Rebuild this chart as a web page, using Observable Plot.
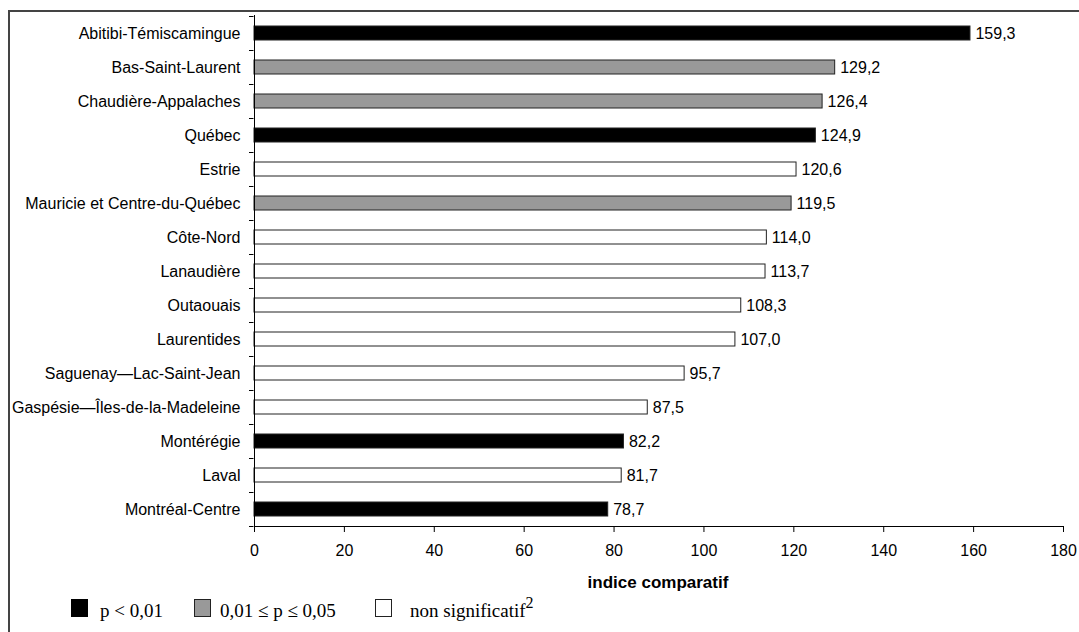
<!DOCTYPE html>
<html>
<head>
<meta charset="utf-8">
<script src="https://cdn.jsdelivr.net/npm/d3@7"></script>
<script src="https://cdn.jsdelivr.net/npm/@observablehq/plot@0.6"></script>
<style>
  html, body { margin: 0; padding: 0; background: #fff; }
  #wrap { position: relative; width: 1079px; height: 632px; overflow: hidden; font-family: "Liberation Sans", Arial, sans-serif; }
  #frame { position: absolute; left: 8px; top: 10px; width: 1200px; height: 700px; border-left: 2px solid #444; border-top: 2px solid #444; box-sizing: border-box; }
  #chart { position: absolute; left: 0; top: 0; }
  #xtitle { position: absolute; top: 573px; left: 658px; transform: translateX(-50%); font-weight: bold; font-size: 17px; line-height: 20px; color: #000; white-space: nowrap; }
  #legend { position: absolute; top: 0; left: 0; width: 1079px; height: 632px; font-family: "Liberation Serif", "Times New Roman", serif; font-size: 19px; color: #000; }
  .sw { position: absolute; top: 599px; width: 17px; height: 18px; border: 1px solid #222; box-sizing: border-box; }
  .lab { position: absolute; top: 600px; line-height: 22px; white-space: nowrap; }
  .sup { position: relative; top: -9px; font-size: 16px; }
</style>
</head>
<body>
<div id="wrap">
  <div id="frame"></div>
  <div id="chart"></div>
  <div id="xtitle">indice comparatif</div>
  <div id="legend"></div>
</div>
<script>
const regions = [
  "Abitibi-Témiscamingue", "Bas-Saint-Laurent", "Chaudière-Appalaches", "Québec",
  "Estrie", "Mauricie et Centre-du-Québec", "Côte-Nord", "Lanaudière",
  "Outaouais", "Laurentides", "Saguenay—Lac-Saint-Jean", "Gaspésie—Îles-de-la-Madeleine",
  "Montérégie", "Laval", "Montréal-Centre"
];
const values = [159.3, 129.2, 126.4, 124.9, 120.6, 119.5, 114.0, 113.7, 108.3, 107.0, 95.7, 87.5, 82.2, 81.7, 78.7];
const significance = ["p1", "p5", "p5", "p1", "ns", "p5", "ns", "ns", "ns", "ns", "ns", "ns", "p1", "ns", "p1"];
const sigKeys = ["p1", "p5", "ns"];
const sigLabels = ["p < 0,01", "0,01 ≤ p ≤ 0,05", "non significatif"];
const sigColors = ["#000000", "#999999", "#ffffff"];
const xTicks = [0, 20, 40, 60, 80, 100, 120, 140, 160, 180];

const data = regions.map((r, i) => ({region: r, value: values[i], sig: significance[i]}));
const fmt = v => v.toFixed(1).replace(".", ",");
const lastRegion = regions[regions.length - 1];

const chart = Plot.plot({
  width: 1079,
  height: 590,
  marginLeft: 254,
  marginRight: 16,
  marginTop: 15,
  marginBottom: 64,
  style: {fontFamily: "'Liberation Sans', Arial, sans-serif", fontSize: "16px", color: "#000", background: "transparent"},
  x: {domain: [0, 180], ticks: xTicks},
  y: {domain: regions, padding: 0},
  color: {domain: sigKeys, range: sigColors},
  marks: [
    Plot.barX(data, {y: "region", x: "value", fill: d => d.sig, stroke: "#222", strokeWidth: 1, insetTop: 10, insetBottom: 10}),
    Plot.text(data, {y: "region", x: "value", text: d => fmt(d.value), textAnchor: "start", dx: 5, fontSize: 16, fill: "#000"}),
    Plot.ruleY(regions, {y: d => d, x1: 0, x2: 1, dx: -5, dy: -17, stroke: "#000"}),
    Plot.ruleY([lastRegion], {y: d => d, x1: 0, x2: 1, dx: -5, dy: 17, stroke: "#000"}),
    Plot.ruleX([0], {stroke: "#000"}),
    Plot.frame({anchor: "bottom", stroke: "#000"}),
    Plot.axisX({ticks: xTicks, tickSize: 6, tickPadding: 12, label: null, tickFormat: d => String(d), fontSize: 16}),
    Plot.axisY({tickSize: 0, tickPadding: 14, label: null, fontSize: 16})
  ]
});
document.getElementById("chart").appendChild(chart);

const legend = document.getElementById("legend");
const swatchLeft = [71, 194, 375];
const labelLeft = [100, 220, 410];
sigKeys.forEach((k, i) => {
  const sw = document.createElement("span");
  sw.className = "sw";
  sw.style.left = swatchLeft[i] + "px";
  sw.style.background = sigColors[i];
  if (i === 0) sw.style.borderColor = "#000";
  const lab = document.createElement("span");
  lab.className = "lab";
  lab.style.left = labelLeft[i] + "px";
  lab.textContent = sigLabels[i];
  if (k === "ns") {
    const sup = document.createElement("span");
    sup.className = "sup";
    sup.textContent = "2";
    lab.appendChild(sup);
  }
  legend.appendChild(sw);
  legend.appendChild(lab);
});
</script>
</body>
</html>
